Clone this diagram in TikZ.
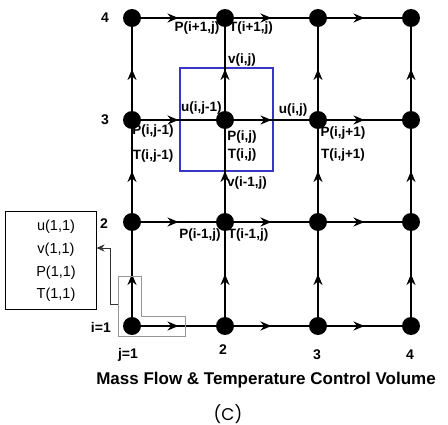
\documentclass[tikz,border=0pt]{standalone}
\usepackage{fontspec}
\setmainfont{Liberation Sans}
\newfontfamily\capfont{Poppins}
\usetikzlibrary{arrows.meta,decorations.markings,positioning}
\definecolor{cvblue}{RGB}{55,55,195}
\definecolor{selgray}{RGB}{150,150,150}

\begin{document}
\begin{tikzpicture}[
    x=1pt, y=-1pt,
    dot/.style={circle, fill=black, inner sep=0pt, minimum size=18pt},
    flow/.style={draw, line width=1.4pt, postaction={decorate},
        decoration={markings, mark=at position 0.5 with {\arrow{Stealth[length=11pt,width=9pt,inset=3.5pt]}}}},
    lbl/.style={font=\bfseries\fontsize{13.5}{15}\selectfont, inner sep=0pt},
    idx/.style={font=\bfseries\fontsize{14}{16}\selectfont, inner sep=0pt},
    cv/.style={draw=cvblue, line width=1.8pt},
    link/.style={draw=black!80, line width=0.9pt, -{Stealth[length=8pt,width=7pt,inset=2.5pt]}}
]
    \useasboundingbox (0,0) rectangle (448,425);

    \draw[cv] (180,68) rectangle (273,171);
    \node[lbl, anchor=west] (u-w) at (181,108) {u(i,j-1)};

    \foreach \i/\y in {1/326,2/222,3/120,4/18}
        \foreach \j/\x in {1/132,2/225,3/318,4/411}
            \node[dot] (n-\i-\j) at (\x,\y) {};

    \foreach \i in {1,...,4}
        \foreach \j/\k in {1/2,2/3,3/4} {
            \draw[flow] (n-\i-\j) -- (n-\i-\k);
            \draw[flow] (n-\j-\i) -- (n-\k-\i);
        }

    \node[lbl] (p-n) at (197,28) {P(i+1,j)};
    \node[lbl] (t-n) at (251,28) {T(i+1,j)};
    \node[lbl] (v-n) at (242,60) {v(i,j)};
    \node[lbl] (u-e) at (293,110) {u(i,j)};
    \node[lbl] (p-c) at (242,137) {P(i,j)};
    \node[lbl] (t-c) at (242,155) {T(i,j)};
    \node[lbl] (v-s) at (247,183) {v(i-1,j)};
    \node[lbl] (p-w) at (153,131) {P(i,j-1)};
    \node[lbl] (t-w) at (153,156) {T(i,j-1)};
    \node[lbl] (p-e) at (343,133) {P(i,j+1)};
    \node[lbl] (t-e) at (343,155) {T(i,j+1)};
    \node[lbl] (p-s) at (200,235) {P(i-1,j)};
    \node[lbl] (t-s) at (248,235) {T(i-1,j)};

    \node[idx] (row-4) at (105,18) {4};
    \node[idx] (row-3) at (105,120) {3};
    \node[idx] (row-2) at (104,224) {2};
    \node[idx, anchor=east] (row-1) at (111,327) {i=1};
    \node[idx] (col-1) at (128,355) {j=1};
    \node[idx] (col-2) at (223,350) {2};
    \node[idx] (col-3) at (317,355) {3};
    \node[idx] (col-4) at (410,355) {4};

    \draw[selgray, line width=1pt] (118,277) -- (141,277) -- (141,317) -- (185,317)
        -- (185,337) -- (118,337) -- cycle;
    \node[draw, line width=1pt, minimum width=91pt, minimum height=98pt] (init) at (50.5,261) {};
    \node[font=\fontsize{14.5}{22.7}\selectfont, align=center, inner sep=0pt] (init-txt)
        at (56,261) {u(1,1)\\v(1,1)\\P(1,1)\\T(1,1)};
    \coordinate (sel) at (118,304);
    \draw[link] (sel) -- (110,304) -- (110,248) -- (init.east |- 0,248);

    \node[font=\bfseries\fontsize{17}{20}\selectfont, inner sep=0pt] (title) at (266,380)
        {Mass Flow \& Temperature Control Volume};
    \node[font=\capfont\fontsize{17}{20}\selectfont, inner sep=0pt] (tag) at (228,414) {(C)};
\end{tikzpicture}
\end{document}
